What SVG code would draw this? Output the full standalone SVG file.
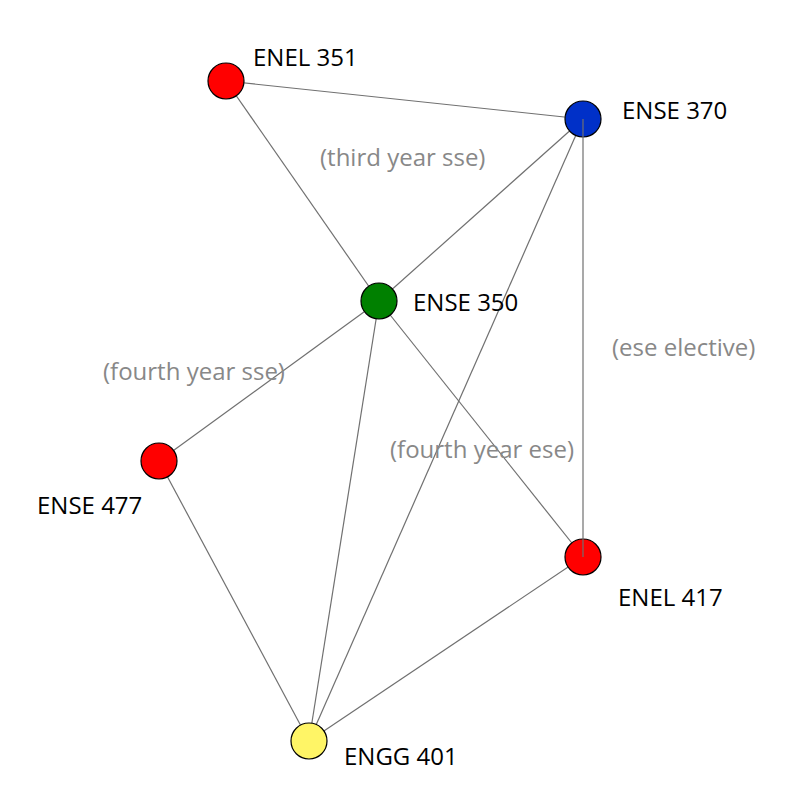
<svg xmlns="http://www.w3.org/2000/svg" width="787" height="800" viewBox="0 0 787 800">
  <style>
    .edge { stroke: #707070; stroke-width: 1.2; fill: none; }
    .node circle { stroke: #000; stroke-width: 1.2; }
    .name { font-family: "Open Sans", "Noto Sans", sans-serif; font-size: 24px; fill: #000; }
    .elabel { font-family: "Open Sans", "Noto Sans", sans-serif; font-size: 24px; fill: #888888; }
  </style>
  <rect width="787" height="800" fill="#ffffff"/>

  <!-- connectors -->
  <g id="connectors">
    <line class="edge" x1="226" y1="81" x2="583" y2="119"/>
    <line class="edge" x1="226" y1="81" x2="379" y2="301"/>
    <line class="edge" x1="583" y1="119" x2="379" y2="301"/>
    <line class="edge" x1="583" y1="119" x2="309" y2="741"/>
    <line class="edge" x1="379" y1="301" x2="159" y2="461"/>
    <line class="edge" x1="379" y1="301" x2="309" y2="741"/>
    <line class="edge" x1="379" y1="301" x2="583" y2="557"/>
    <line class="edge" x1="159" y1="461" x2="309" y2="741"/>
    <line class="edge" x1="583" y1="557" x2="309" y2="741"/>
  </g>

  <!-- nodes -->
  <g id="enel351" class="node">
    <circle cx="226" cy="81" r="18" fill="#ff0000"/>
    <text class="name" x="253" y="66">ENEL 351</text>
  </g>
  <g id="ense370" class="node">
    <circle cx="583" cy="119" r="18" fill="#0030c8"/>
    <text class="name" x="622" y="119">ENSE 370</text>
  </g>
  <g id="ense350" class="node">
    <circle cx="379" cy="301" r="18" fill="#008000"/>
    <text class="name" x="413" y="311">ENSE 350</text>
  </g>
  <g id="ense477" class="node">
    <circle cx="159" cy="461" r="18" fill="#ff0000"/>
    <text class="name" x="37" y="514">ENSE 477</text>
  </g>
  <g id="enel417" class="node">
    <circle cx="583" cy="557" r="18" fill="#ff0000"/>
    <text class="name" x="618" y="606">ENEL 417</text>
  </g>
  <g id="engg401" class="node">
    <circle cx="309" cy="741" r="18" fill="#fff566"/>
    <text class="name" x="344" y="765">ENGG 401</text>
  </g>

  <!-- connector drawn over its end nodes -->
  <g id="connectors-top">
    <line class="edge" x1="583" y1="119" x2="583" y2="557"/>
  </g>

  <!-- edge labels -->
  <g id="edge-labels">
    <text class="elabel" x="320" y="166">(third year sse)</text>
    <text class="elabel" x="612" y="356">(ese elective)</text>
    <text class="elabel" x="103" y="380">(fourth year sse)</text>
    <text class="elabel" x="390" y="458">(fourth year ese)</text>
  </g>
</svg>
